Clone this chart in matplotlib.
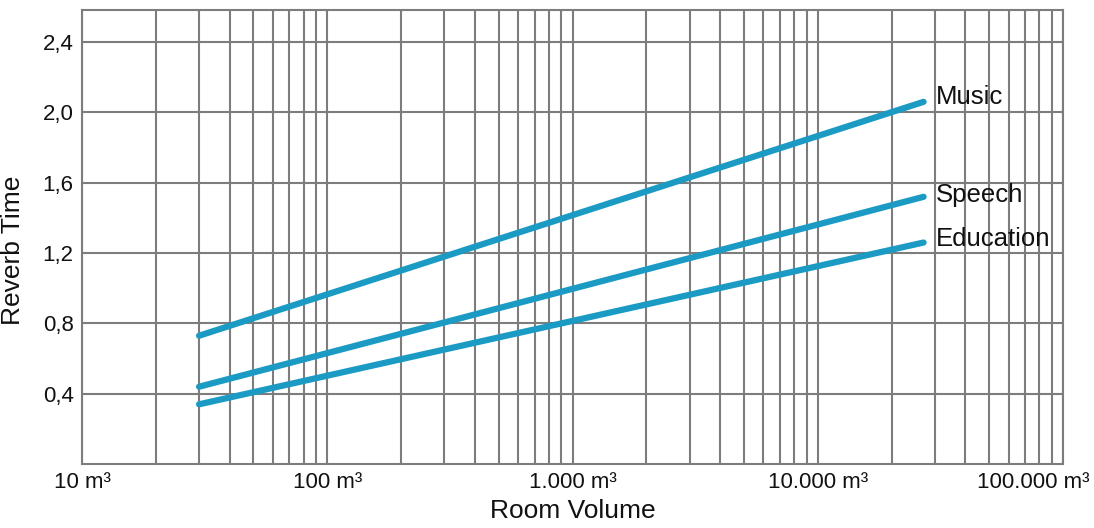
import matplotlib
matplotlib.use("Agg")
import matplotlib.pyplot as plt
from matplotlib.ticker import FixedLocator, LogLocator, NullFormatter
import matplotlib.transforms as mtransforms

plt.rcParams['font.family'] = ['Liberation Sans', 'DejaVu Sans']

# room volume (m³) at the start and end of each curve
volume = [30, 27000]
music = [0.73, 2.06]
speech = [0.44, 1.52]
education = [0.34, 1.26]
names = ['Music', 'Speech', 'Education']

x_ticks = [10, 100, 1000, 10000, 100000]
x_labels = ['10 m³', '100 m³', '1.000 m³', '10.000 m³', '100.000 m³']
y_ticks = [0.4, 0.8, 1.2, 1.6, 2.0, 2.4]
y_labels = ['0,4', '0,8', '1,2', '1,6', '2,0', '2,4']

blue = '#1b9bc4'
grey = '#7d7d7d'

fig = plt.figure(figsize=(10.94, 5.28), dpi=100)
ax = fig.add_axes([0.075, 0.121, 0.8967, 0.861])

ax.set_xscale('log')
ax.set_xlim(10, 100000)
ax.set_ylim(0, 2.585)

# grid
ax.xaxis.set_major_locator(FixedLocator(x_ticks))
ax.xaxis.set_minor_locator(LogLocator(base=10, subs=range(2, 10)))
ax.xaxis.set_minor_formatter(NullFormatter())
ax.set_xticks(x_ticks)
ax.set_xticklabels(x_labels)
ax.set_yticks(y_ticks)
ax.set_yticklabels(y_labels)
ax.grid(True, which='both', axis='x', color=grey, linewidth=1.5)
ax.grid(True, which='major', axis='y', color=grey, linewidth=1.5)
ax.tick_params(which='both', length=0, labelsize=16, colors='#111111', pad=6)
for s in ax.spines.values():
    s.set_color(grey)
    s.set_linewidth(1.5)

# last x label is pulled inside the figure
last = ax.get_xticklabels()[-1]
last.set_horizontalalignment('right')
last.set_transform(last.get_transform() + mtransforms.ScaledTranslation(0.26, 0, fig.dpi_scale_trans))

series = [music, speech, education]
offsets = [5, 2, 4]
for vals, name, dy in zip(series, names, offsets):
    ax.plot(volume, vals, color=blue, linewidth=4.5, solid_capstyle='round', zorder=3)
    ax.annotate(name, xy=(volume[-1], vals[-1]), xytext=(12, dy), textcoords='offset pixels',
                va='center', ha='left', fontsize=18.5, color='#111111')

ax.set_xlabel('Room Volume', fontsize=19, color='#111111', labelpad=4)
ax.set_ylabel('Reverb Time', fontsize=19, color='#111111')
ax.yaxis.set_label_coords(-0.058, 0.47)

fig.savefig('out.png', dpi=100)
